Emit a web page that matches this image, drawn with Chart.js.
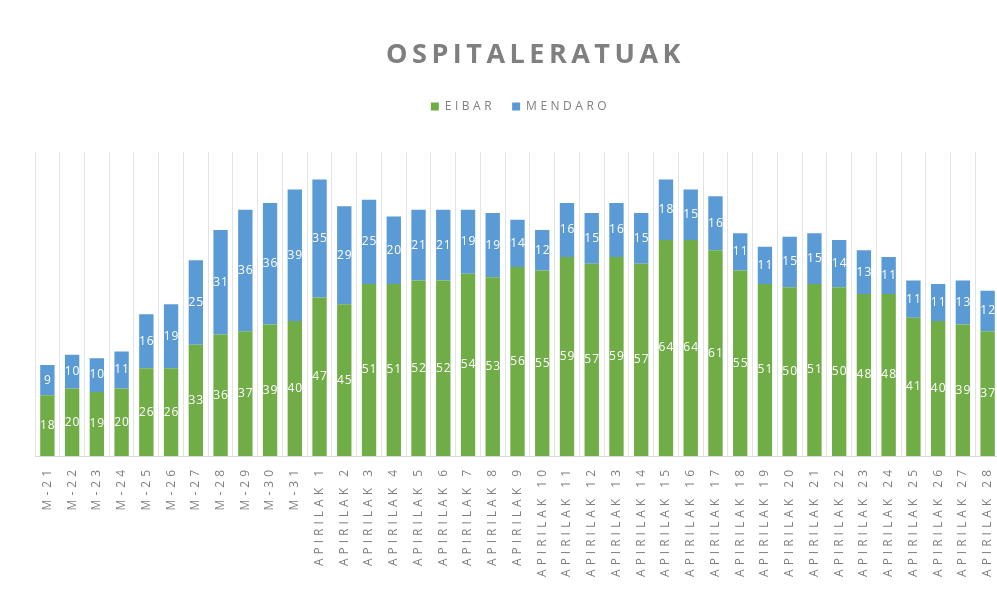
<!DOCTYPE html>
<html>
<head>
<meta charset="utf-8">
<script src="https://cdn.jsdelivr.net/npm/chart.js@4/dist/chart.umd.min.js"></script>
<style>
  html, body { margin: 0; padding: 0; background: #ffffff; overflow: hidden; }
  #wrap { width: 1060px; height: 596px; }
</style>
</head>
<body>
<div id="wrap"><canvas id="c" width="1060" height="596"></canvas></div>
<script>
const categories = ["M-21","M-22","M-23","M-24","M-25","M-26","M-27","M-28","M-29","M-30","M-31",
  "APIRILAK 1","APIRILAK 2","APIRILAK 3","APIRILAK 4","APIRILAK 5","APIRILAK 6","APIRILAK 7",
  "APIRILAK 8","APIRILAK 9","APIRILAK 10","APIRILAK 11","APIRILAK 12","APIRILAK 13","APIRILAK 14",
  "APIRILAK 15","APIRILAK 16","APIRILAK 17","APIRILAK 18","APIRILAK 19","APIRILAK 20","APIRILAK 21",
  "APIRILAK 22","APIRILAK 23","APIRILAK 24","APIRILAK 25","APIRILAK 26","APIRILAK 27","APIRILAK 28"];
const eibar   = [18,20,19,20,26,26,33,36,37,39,40,47,45,51,51,52,52,54,53,56,55,59,57,59,57,64,64,61,55,51,50,51,50,48,48,41,40,39,37];
const mendaro = [9,10,10,11,16,19,25,31,36,36,39,35,29,25,20,21,21,19,19,14,12,16,15,16,15,18,15,16,11,11,15,15,14,13,11,11,11,13,12];
const seriesNames = ["EIBAR","MENDARO"];
const titleText = "OSPITALERATUAK";

const GRAY = '#7f7f7f';

function wrapSpacing(obj, sp, dx) {
  if (!obj || obj.__wrapped) return;
  const origDraw = obj.draw.bind(obj);
  obj.draw = function(a) {
    const c = this.ctx; const prev = c.letterSpacing;
    c.save();
    c.translate(dx, 0);
    c.letterSpacing = sp; origDraw(a); c.letterSpacing = prev;
    c.restore();
  };
  obj.__wrapped = true;
}

const spacingPlugin = {
  id: 'spacing',
  beforeInit(chart) {
    const lg = chart.legend;
    const origFit = lg.fit.bind(lg);
    lg.fit = function() { origFit(); this.height += 30; };
  },
  beforeUpdate(chart) { chart.ctx.letterSpacing = '4px'; },
  afterUpdate(chart) {
    wrapSpacing(chart.titleBlock, '4.5px', 18);
    wrapSpacing(chart.legend, '3.5px', 6);
  },
  beforeDraw(chart) { chart.ctx.letterSpacing = '4px'; }
};

const labelPlugin = {
  id: 'segLabels',
  afterDatasetsDraw(chart) {
    const ctx = chart.ctx;
    ctx.save();
    ctx.letterSpacing = '1px';
    ctx.fillStyle = '#ffffff';
    ctx.font = '12px "Open Sans", sans-serif';
    ctx.textAlign = 'center';
    ctx.textBaseline = 'middle';
    chart.data.datasets.forEach((ds, di) => {
      const meta = chart.getDatasetMeta(di);
      meta.data.forEach((el, i) => {
        const v = ds.data[i];
        const cy = (el.y + el.base) / 2;
        ctx.fillText(String(v), el.x + 0.5, cy);
      });
    });
    ctx.restore();
  }
};

new Chart(document.getElementById('c'), {
  type: 'bar',
  data: {
    labels: categories,
    datasets: [
      { label: seriesNames[0], data: eibar, backgroundColor: '#70AD47', barPercentage: 0.58, categoryPercentage: 1.0 },
      { label: seriesNames[1], data: mendaro, backgroundColor: '#5B9BD5', barPercentage: 0.58, categoryPercentage: 1.0 }
    ]
  },
  options: {
    responsive: false,
    animation: false,
    layout: { padding: { left: 35, right: 60, top: 39, bottom: 0 } },
    plugins: {
      title: {
        display: true, text: titleText, color: GRAY,
        font: { family: '"Open Sans", sans-serif', size: 27, weight: 'bold' },
        padding: { top: 0, bottom: 12 }
      },
      legend: {
        display: true, position: 'top',
        labels: {
          color: GRAY, boxWidth: 8, boxHeight: 8, padding: 17,
          font: { family: '"Open Sans", sans-serif', size: 12 }
        }
      },
      tooltip: { enabled: false }
    },
    scales: {
      x: {
        stacked: true,
        grid: { display: true, color: '#e3e3e3', offset: true, drawTicks: false },
        border: { display: true, color: '#d9d9d9' },
        ticks: {
          color: GRAY, minRotation: 90, maxRotation: 90, autoSkip: false, padding: 10,
          font: { family: '"Open Sans", sans-serif', size: 12 }
        },
        afterFit(scale) { scale.height = 140; }
      },
      y: {
        stacked: true, display: false, min: 0, max: 90
      }
    }
  },
  plugins: [spacingPlugin, labelPlugin]
});
</script>
</body>
</html>
